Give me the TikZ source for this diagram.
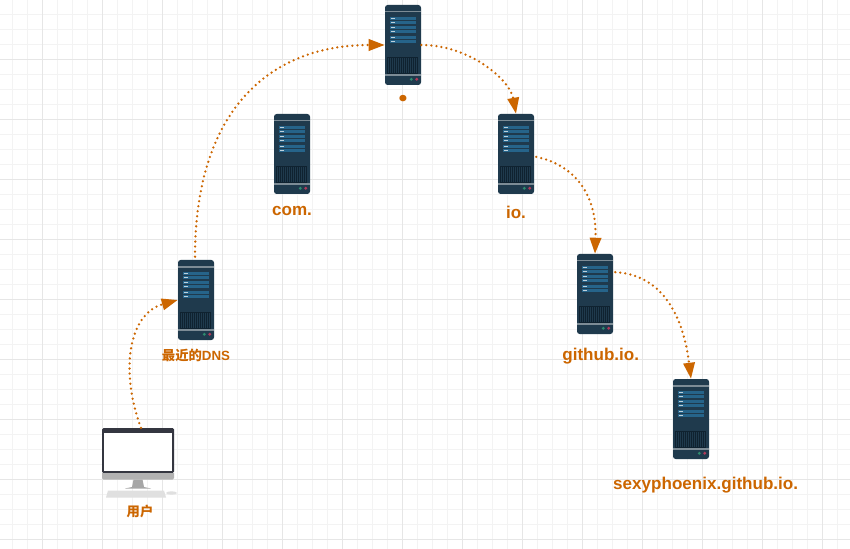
\documentclass[tikz,border=0pt]{standalone}
\usepackage{fontspec}
\setmainfont{Liberation Sans}
\newfontfamily\cjkFont{Noto Sans CJK SC}
\newfontfamily\dotFont{Poppins}
\usetikzlibrary{arrows.meta, positioning, calc}
\definecolor{cTrace}{RGB}{204, 102, 0}
\definecolor{cGridMinor}{RGB}{243, 243, 243}
\definecolor{cGridMajor}{RGB}{230, 230, 230}
\definecolor{cServer}{RGB}{31, 58, 77}
\definecolor{cStrip}{RGB}{125, 140, 150}
\definecolor{cPanel}{RGB}{38, 100, 138}
\definecolor{cGrill}{RGB}{15, 34, 48}
\definecolor{cFrame}{RGB}{52, 54, 64}
\definecolor{cLedGreen}{RGB}{46, 139, 110}
\definecolor{cLedPink}{RGB}{176, 57, 90}
\tikzset{
    serverBody/.style={
        rectangle, rounded corners=2pt, fill=cServer, inner sep=0pt,
        minimum width=27pt, minimum height=60pt
    },
    monitorBody/.style={
        rectangle, rounded corners=1pt, fill=cFrame, inner sep=0pt,
        minimum width=54pt, minimum height=33.5pt
    },
    hostLabel/.style={
        font=\fontsize{12.8pt}{15pt}\bfseries, text=cTrace, inner sep=0pt
    },
    smallLabel/.style={
        font=\fontsize{10pt}{12pt}\bfseries, text=cTrace, inner sep=0pt
    },
    traceArrow/.style={
        -{Triangle[length=12pt, width=8.5pt]},
        line width=1.9pt, color=cTrace, line cap=round,
        dash pattern=on 0pt off 3.8pt
    },
    serverPic/.pic={
        \node [serverBody] (body) at (0,0) {};
        \fill [cStrip] (-18,-34) rectangle (18,-32.5);
        \fill [cStrip] (-18,29) rectangle (18,31);
        \fill [cGrill] (-16,12) rectangle (15,29);
        \foreach \x in {-15,-13,...,13} {
                \fill [cServer] (\x,13) rectangle ++(0.7,15);
            }
        \foreach \y in {-28,-24,-19,-15,-9,-5} {
                \fill [cPanel] (-13,\y) rectangle ++(26,3.2);
                \fill [white!70!cPanel] (-12,\y+1) rectangle ++(4,1.1);
            }
        \fill [cLedGreen] (8.3,34.3) circle (1.6);
        \fill [cLedPink] (13.7,34.3) circle (1.6);
    },
    monitorPic/.pic={
        \node [monitorBody] (body) at (0,0) {};
        \fill [white] (-34,-18) rectangle (34,20.7);
        \fill [black!30] (-36,22.5) rectangle (36,27) [rounded corners=1pt]
            (-36,24) rectangle (36,29);
        \fill [black!35] (-4.5,29) -- (4.5,29) -- (6,36.5) -- (13,38) -- (-13,38) -- (-6,36.5) -- cycle;
        \fill [black!12] (-30,40) -- (26,40) -- (28,47) -- (-32,47) -- cycle;
        \fill [black!12] (33.5,42.5) ellipse (5.5 and 1.7);
    }
}

\begin{document}
\begin{tikzpicture}[x=0.75pt, y=-0.75pt]

	\useasboundingbox (0,0) rectangle (850,549);

	% =========================================================
	% Background Grid
	% =========================================================

	\fill [white] (0,0) rectangle (850,549);
	\foreach \i in {0,...,56} {
			\draw [cGridMinor, line width=0.75pt] ({12.5+15*\i},0) -- ++(0,549);
		}
	\foreach \i in {0,...,36} {
			\draw [cGridMinor, line width=0.75pt] (0,{14.5+15*\i}) -- ++(850,0);
		}
	\foreach \i in {0,...,13} {
			\draw [cGridMajor, line width=0.75pt] ({42.5+60*\i},0) -- ++(0,549);
		}
	\foreach \i in {0,...,8} {
			\draw [cGridMajor, line width=0.75pt] (0,{59.5+60*\i}) -- ++(850,0);
		}

	% =========================================================
	% Hosts
	% =========================================================

	\pic (root) at (403,45) {serverPic};
	\pic (com) at (292,154) {serverPic};
	\pic (io) at (516,154) {serverPic};
	\pic (github) at (595,294) {serverPic};
	\pic (sexy) at (691,419) {serverPic};
	\pic (dns) at (196,300) {serverPic};
	\pic (user) at (138,450.5) {monitorPic};

	% =========================================================
	% Labels
	% =========================================================

	\node [hostLabel, font=\dotFont\fontsize{26pt}{26pt}\bfseries, below=7pt of rootbody] (rootLabel) {.};
	\node [hostLabel, below=9pt of combody] (comLabel) {com.};
	\node [hostLabel, below=9pt of iobody] (ioLabel) {io.};
	\node [hostLabel, below=10pt of githubbody, xshift=4.3pt] (githubLabel) {github.io.};
	\node [hostLabel, below=13.5pt of sexybody, xshift=11pt] (sexyLabel) {sexyphoenix.github.io.};
	\node [smallLabel, below=6.5pt of dnsbody] (dnsLabel) {{\cjkFont 最近的}DNS};
	\node [smallLabel, at={(140,511)}] (userLabel) {{\cjkFont 用户}};

	% =========================================================
	% Query Path
	% =========================================================

	\draw [traceArrow] (userbody.north) ++(3,0) .. controls (120,372) and (128,314) .. (dnsbody.west);
	\draw [traceArrow] (dnsbody.north) ++(-1,-3) .. controls (195,110) and (270,45) .. (rootbody.west);
	\draw [traceArrow] (rootbody.east) .. controls (470,45) and (510,80) .. (iobody.north);
	\draw [traceArrow] (iobody.-9) ++(2,0) .. controls (575,165) and (597,195) .. (githubbody.north);
	\draw [traceArrow] (githubbody.50) ++(2,0) .. controls (670,275) and (685,330) .. (sexybody.north);

\end{tikzpicture}
\end{document}
